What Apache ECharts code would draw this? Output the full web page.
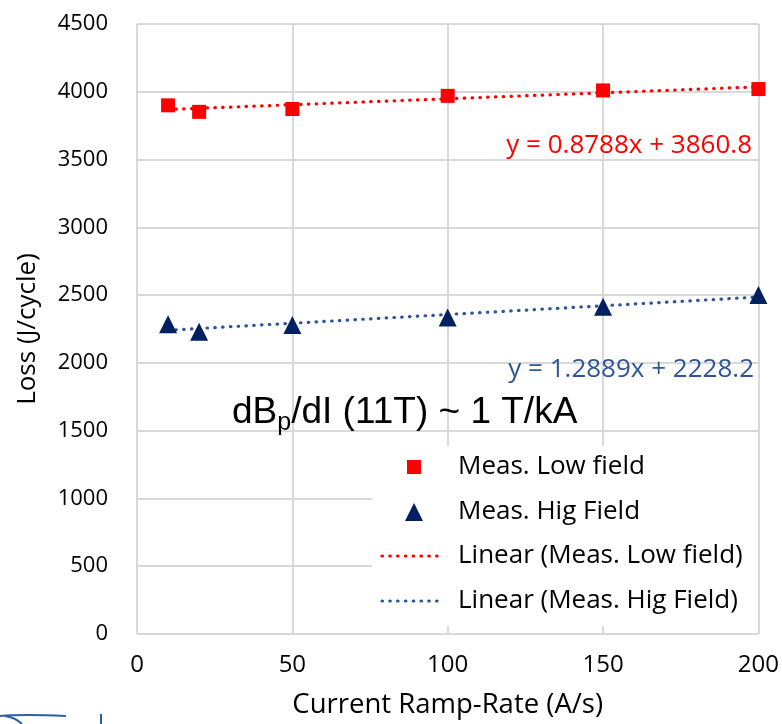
<!DOCTYPE html>
<html>
<head>
<meta charset="utf-8">
<script src="https://cdn.jsdelivr.net/npm/echarts@6/dist/echarts.min.js"></script>
<style>
  html, body { margin: 0; padding: 0; background: #fff; }
  #chart { width: 782px; height: 724px; }
</style>
</head>
<body>
<div id="chart"></div>
<script>
// Ramp rates (A/s)
const rampRates = [10, 20, 50, 100, 150, 200];
// Measured loss per cycle (J/cycle)
const lossLowField = [3900, 3852, 3873, 3970, 4010, 4020];
const lossHighField = [2285, 2230, 2280, 2335, 2415, 2500];
// Linear trend coefficients [slope, intercept]
const fitLow = [0.8788, 3860.8];
const fitHigh = [1.2889, 2228.2];
const fitRange = [10, 200];
const xTicks = [0, 200, 50];
const yTicks = [0, 4500, 500];

const RED = '#ff0000';
const NAVY = '#002060';
const TREND_BLUE = '#2f5597';
const FONT = '"Open Sans", "Noto Sans", sans-serif';
const ARIAL = '"Liberation Sans", Arial, sans-serif';

const pairs = (xs, ys) => xs.map((x, i) => [x, ys[i]]);
const trend = (c) => fitRange.map(x => [x, c[0] * x + c[1]]);
const eqText = (c) => 'y = ' + c[0].toFixed(4) + 'x + ' + c[1].toFixed(1);

const chart = echarts.init(document.getElementById('chart'), null, { renderer: 'canvas' });

const dotted = (color) => ({ color: color, width: 3.2, type: [0.5, 7.3], cap: 'round' });
const legendText = (label, y) => ({
  type: 'text', z: 9,
  style: { x: 458, y: y, text: label, fill: '#000', font: '26px ' + FONT, verticalAlign: 'middle' }
});

chart.setOption({
  animation: false,
  backgroundColor: '#ffffff',
  grid: { left: 137, right: 23, top: 24, bottom: 88, containLabel: false },
  xAxis: {
    type: 'value', min: xTicks[0], max: xTicks[1], interval: xTicks[2],
    name: 'Current Ramp-Rate (A/s)', nameLocation: 'middle', nameGap: 57,
    nameTextStyle: { fontFamily: FONT, fontSize: 27.5, color: '#000' },
    axisLine: { show: false }, axisTick: { show: false },
    axisLabel: { fontFamily: FONT, fontSize: 24, color: '#000', margin: 19 },
    splitLine: { show: true, lineStyle: { color: '#d9d9d9', width: 2 } }
  },
  yAxis: {
    type: 'value', min: yTicks[0], max: yTicks[1], interval: yTicks[2],
    name: 'Loss (J/cycle)', nameLocation: 'middle', nameGap: 96, nameRotate: 90,
    nameTextStyle: { fontFamily: FONT, fontSize: 26, color: '#000' },
    axisLine: { show: false }, axisTick: { show: false },
    axisLabel: { fontFamily: FONT, fontSize: 22, color: '#000', margin: 29,
      formatter: (v) => String(v) },
    splitLine: { show: true, lineStyle: { color: '#d9d9d9', width: 2 } }
  },
  series: [
    {
      name: 'Linear (Meas. Low field)', type: 'line', data: trend(fitLow),
      symbol: 'none', lineStyle: dotted(RED), z: 2
    },
    {
      name: 'Linear (Meas. Hig Field)', type: 'line', data: trend(fitHigh),
      symbol: 'none', lineStyle: dotted(TREND_BLUE), z: 2
    },
    {
      name: 'Meas. Low field', type: 'scatter', data: pairs(rampRates, lossLowField),
      symbol: 'rect', symbolSize: 14, itemStyle: { color: RED, opacity: 1 }, z: 3
    },
    {
      name: 'Meas. Hig Field', type: 'scatter', data: pairs(rampRates, lossHighField),
      symbol: 'triangle', symbolSize: [18, 18], itemStyle: { color: NAVY, opacity: 1 }, z: 3
    }
  ],
  graphic: [
    // trend equations
    { type: 'text', z: 10,
      style: { x: 752, y: 146, text: eqText(fitLow), fill: RED, font: '26px ' + FONT, align: 'right', verticalAlign: 'middle' } },
    { type: 'text', z: 10,
      style: { x: 754, y: 370, text: eqText(fitHigh), fill: TREND_BLUE, font: '26px ' + FONT, align: 'right', verticalAlign: 'middle' } },
    // annotation
    { type: 'text', left: 232, top: 389, z: 10,
      style: {
        text: '{a|dB}{s|p}{a|/dI (11T) ~ 1 T/kA}',
        rich: {
          a: { fontFamily: ARIAL, fontSize: 37, fill: '#000', lineHeight: 42 },
          s: { fontFamily: ARIAL, fontSize: 25, fill: '#000', padding: [22, 0, 0, 0], lineHeight: 42 }
        }
      } },
    // legend panel
    { type: 'rect', z: 8, shape: { x: 372, y: 446, width: 386, height: 180 },
      style: { fill: '#ffffff' } },
    { type: 'rect', z: 9, shape: { x: 407, y: 460, width: 14, height: 14 }, style: { fill: RED } },
    { type: 'polygon', z: 9, shape: { points: [[414, 503], [405, 521], [423, 521]] }, style: { fill: NAVY } },
    { type: 'line', z: 9, shape: { x1: 382, y1: 556, x2: 444, y2: 556 }, style: { stroke: RED, lineWidth: 3.2, lineDash: [0.5, 7.3], lineCap: 'round' } },
    { type: 'line', z: 9, shape: { x1: 382, y1: 601, x2: 444, y2: 601 }, style: { stroke: TREND_BLUE, lineWidth: 3.2, lineDash: [0.5, 7.3], lineCap: 'round' } },
    legendText('Meas. Low field', 467),
    legendText('Meas. Hig Field', 512),
    legendText('Linear (Meas. Low field)', 556),
    legendText('Linear (Meas. Hig Field)', 601),
    // corner logo fragment
    { type: 'bezierCurve', z: 9, shape: { x1: 0, y1: 716, x2: 66, y2: 716, cpx1: 20, cpy1: 714, cpx2: 45, cpy2: 715 },
      style: { stroke: '#2e5eaa', lineWidth: 2, fill: 'none' } },
    { type: 'bezierCurve', z: 9, shape: { x1: 5, y1: 716, x2: 22, y2: 724, cpx1: 12, cpy1: 717, cpx2: 18, cpy2: 720 },
      style: { stroke: '#2e5eaa', lineWidth: 2, fill: 'none' } },
    { type: 'line', z: 9, shape: { x1: 101, y1: 714, x2: 101, y2: 724 }, style: { stroke: '#2e5eaa', lineWidth: 2 } }
  ]
});
</script>
</body>
</html>
